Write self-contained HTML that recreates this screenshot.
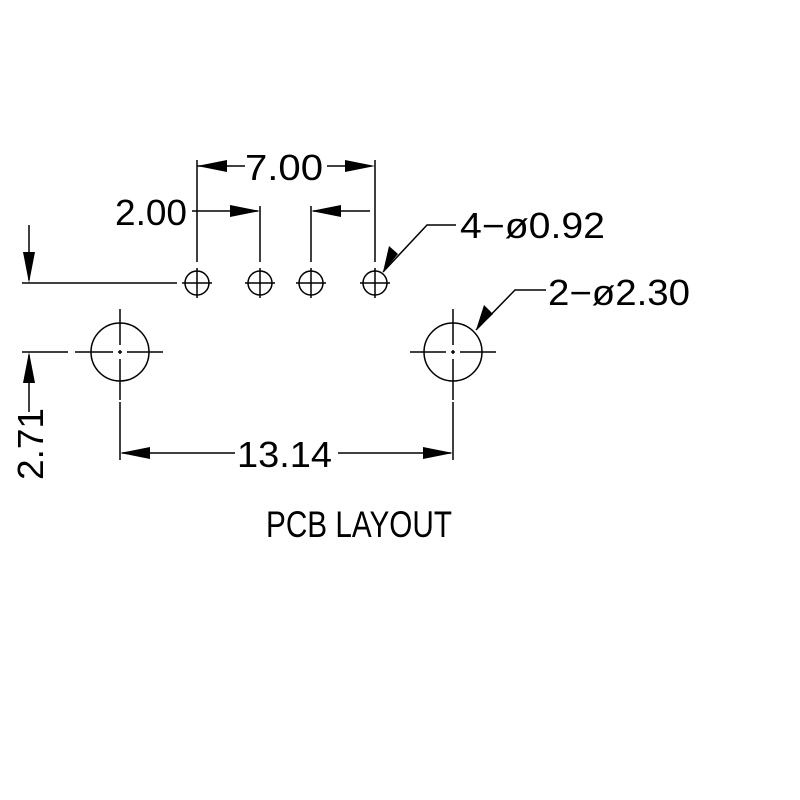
<!DOCTYPE html>
<html><head><style>html,body{margin:0;padding:0;background:#fff}svg{display:block}</style></head>
<body>
<svg width="800" height="800" viewBox="0 0 800 800" xmlns="http://www.w3.org/2000/svg" font-family="Liberation Sans, sans-serif">
<rect width="800" height="800" fill="#fff"/>
<g stroke="#000" stroke-width="1.5" fill="none">
<circle cx="197" cy="283" r="12"/><circle cx="260" cy="283" r="12"/><circle cx="311" cy="283" r="12"/><circle cx="375" cy="283" r="12"/>
<path d="M182 283H212M197 268V298M245 283H275M260 268V298M296 283H326M311 268V298M360 283H390M375 268V298"/>
<circle cx="120" cy="352" r="29"/><circle cx="453" cy="352" r="29"/>
<path d="M22 352H68M75 352H113M118 352H122M127 352H163M120 309V345M120 350V354M120 359V400M120 402V460"/>
<path d="M410 352H446M451 352H455M460 352H496M453 309V345M453 350V354M453 359V400M453 402V460"/>
<path d="M197 160V262M260 206V262M311 206V262M375 160V262"/>
<path d="M22 283H177"/>
<path d="M197 166H245M327 166H371"/>
<path d="M192 211H258M313 211H370"/>
<path d="M29 225V280"/>
<path d="M29 355V412"/>
<path d="M122 453H235M338 453H451"/>
<path d="M383 272L427 225H456M476 330L515 290H546"/>
</g>
<g fill="#000">
<path d="M197 166L227 160V172Z"/><path d="M375 166L345 160V172Z"/>
<path d="M260 211L230 205V217Z"/><path d="M311 211L341 205V217Z"/>
<path d="M29 283L23 252H35Z"/><path d="M29 352L23 383H35Z"/>
<path d="M120 453L150 447V459Z"/><path d="M453 453L423 447V459Z"/>
<path d="M383 272L389 246L398 254Z"/><path d="M476 330L484 305L493 314Z"/>
</g>
<g fill="#000" font-size="36">
<text x="245" y="180" textLength="78" lengthAdjust="spacingAndGlyphs">7.00</text>
<text x="115" y="225" textLength="72" lengthAdjust="spacingAndGlyphs">2.00</text>
<text x="460" y="238" textLength="145" lengthAdjust="spacingAndGlyphs">4−ø0.92</text>
<text x="548" y="305" textLength="142" lengthAdjust="spacingAndGlyphs">2−ø2.30</text>
<text x="237" y="467" textLength="95" lengthAdjust="spacingAndGlyphs">13.14</text>
<text transform="translate(43,480) rotate(-90)" x="0" y="0" textLength="72" lengthAdjust="spacingAndGlyphs">2.71</text>
<text x="266" y="537" font-size="37" textLength="186" lengthAdjust="spacingAndGlyphs">PCB LAYOUT</text>
</g>
</svg>
</body></html>
